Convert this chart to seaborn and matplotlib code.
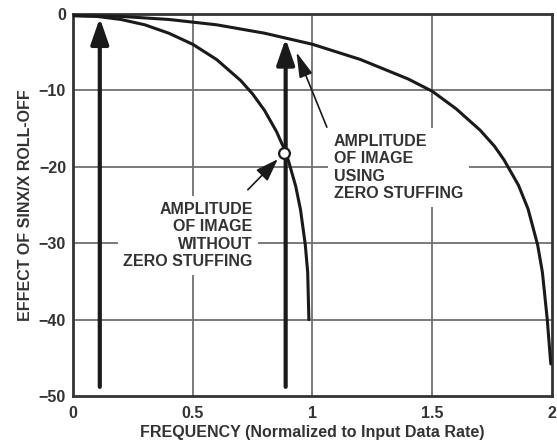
import numpy as np
import pandas as pd
import seaborn as sns
import matplotlib.pyplot as plt

# valori
freq_no_stuff = [0, 0.1, 0.2, 0.3, 0.4, 0.5, 0.6, 0.7, 0.75, 0.8, 0.85, 0.88, 0.9, 0.93, 0.95, 0.97, 0.98, 0.985]
db_no_stuff = [-0.2, -0.3, -0.7, -1.4, -2.5, -3.95, -5.95, -8.69, -10.45, -12.62, -15.39, -17.5,
               -19.23, -22.54, -25.6, -30.2, -33.8, -40.0]
freq_stuff = [0, 0.2, 0.4, 0.6, 0.8, 1.0, 1.2, 1.4, 1.5, 1.6, 1.7, 1.76, 1.8, 1.86, 1.9, 1.94, 1.96, 1.98, 1.995]
db_stuff = [-0.2, -0.3, -0.7, -1.4, -2.5, -3.95, -5.94, -8.5, -10.1, -12.4, -15.2, -17.3,
            -19.1, -22.4, -25.5, -30.2, -33.8, -39.9, -45.8]

image_freqs = [0.112, 0.888]
image_tops = [-0.5, -3.2]
arrow_base = -48.8
crossing = (0.88, -18.2)

xticks = [0, 0.5, 1, 1.5, 2]
xtick_labels = ["0", "0.5", "1", "1.5", "2"]
yticks = [0, -10, -20, -30, -40, -50]

df1 = pd.DataFrame({"f": freq_no_stuff, "db": db_no_stuff})
df2 = pd.DataFrame({"f": freq_stuff, "db": db_stuff})

sns.set_style("white")
plt.rcParams["font.family"] = ["Liberation Sans", "DejaVu Sans"]
plt.rcParams["font.weight"] = "bold"
testo = "#333333"

fig = plt.figure(figsize=(5.57, 4.41), dpi=100)
ax = fig.add_axes([0.131, 0.102, 0.860, 0.866])

for x in xticks[1:-1]:
    ax.axvline(x, color="#6f6f6f", lw=1.3, zorder=0)
for y in yticks[1:-1]:
    ax.axhline(y, color="#6f6f6f", lw=1.3, zorder=0)

sns.lineplot(data=df1, x="f", y="db", color="#1a1a1a", lw=2.2, ax=ax, zorder=3)
sns.lineplot(data=df2, x="f", y="db", color="#1a1a1a", lw=2.2, ax=ax, zorder=3)

for f, top in zip(image_freqs, image_tops):
    ax.annotate("", xy=(f, top), xytext=(f, arrow_base),
                arrowprops=dict(arrowstyle="-|>,head_length=1.3,head_width=0.45",
                                lw=3, color="#1a1a1a", mutation_scale=12, shrinkA=0, shrinkB=0),
                zorder=4)

ax.scatter([crossing[0]], [crossing[1]], s=60, facecolor="white", edgecolor="#1a1a1a", lw=1.6, zorder=6)

bbox = dict(facecolor="white", edgecolor="none", pad=4)
ax.text(0.75, -29.0, "AMPLITUDE\nOF IMAGE\nWITHOUT\nZERO STUFFING", ha="right", va="center",
        fontsize=11.5, fontweight="bold", color=testo, linespacing=1.2, bbox=bbox, zorder=5)
ax.text(1.09, -20.1, "AMPLITUDE\nOF IMAGE\nUSING\nZERO STUFFING", ha="left", va="center",
        fontsize=11.5, fontweight="bold", color=testo, linespacing=1.2, bbox=bbox, zorder=5)

ax.annotate("", xy=(0.855, -19.0), xytext=(0.73, -23.0),
            arrowprops=dict(arrowstyle="-|>,head_length=1.0,head_width=0.35", lw=1.2,
                            color="#1a1a1a", mutation_scale=14, shrinkA=0, shrinkB=0), zorder=6)
ax.annotate("", xy=(0.933, -5.0), xytext=(1.06, -14.8),
            arrowprops=dict(arrowstyle="-|>,head_length=1.1,head_width=0.3", lw=1.2,
                            color="#1a1a1a", mutation_scale=14, shrinkA=0, shrinkB=0), zorder=6)

ax.set_xlim(0, 2)
ax.set_ylim(-50, 0)
ax.set_xticks(xticks)
ax.set_xticklabels(xtick_labels)
ax.set_yticks(yticks)
ax.tick_params(length=0, labelsize=11.5, labelcolor=testo)
ax.tick_params(axis="x", pad=7)
ax.tick_params(axis="y", pad=5)
for lab in ax.get_xticklabels() + ax.get_yticklabels():
    lab.set_fontweight("bold")
ax.set_xlabel("FREQUENCY (Normalized to Input Data Rate)", fontsize=11.5, fontweight="bold", color=testo, labelpad=3)
ax.set_ylabel("EFFECT OF SINX/X ROLL-OFF", fontsize=11.5, fontweight="bold", color=testo, labelpad=4)
for s in ax.spines.values():
    s.set_color("#333333")
    s.set_linewidth(2)

fig.savefig("out.png", dpi=100)
